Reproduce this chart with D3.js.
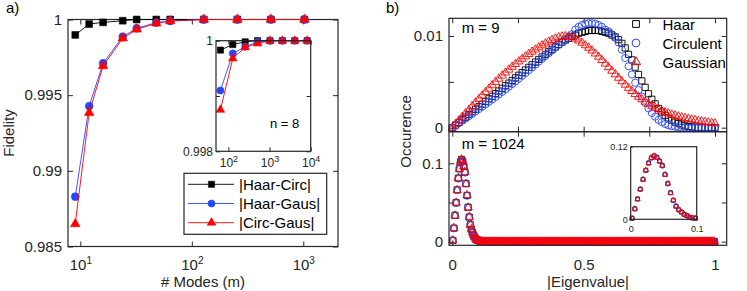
<!DOCTYPE html>
<html><head><meta charset="utf-8">
<script src="https://cdn.jsdelivr.net/npm/d3@7"></script>
<style>body{margin:0;background:#fff;} svg{display:block;}</style>
</head><body><svg id="chart" width="747" height="291"></svg>
<script>
// ---------------- DATA ----------------
// panel a: fidelity vs number of modes
const modesMain = [9, 12, 16, 24, 32, 48, 64, 128, 256, 512, 1024];
const fidHaarCirc = [0.99898, 0.9997, 0.99981, 0.99992, 1, 1, 1, 1, 1, 1, 1];
const fidHaarGaus = [0.98829, 0.99428, 0.99711, 0.99886, 0.99942, 0.99979, 0.9999, 1, 1, 1, 1];
const fidCircGaus = [0.98649, 0.99384, 0.99693, 0.99876, 0.99935, 0.99975, 0.9999, 1, 1, 1, 1];
// panel a inset (n = 8)
const modesInset = [64, 128, 256, 512, 1024, 2048, 4096, 8192];
const insHaarCirc = [0.99983, 0.99993, 0.99998, 1, 1, 1, 1, 1];
const insHaarGaus = [0.9991, 0.99977, 0.99989, 0.99998, 1, 1, 1, 1];
const insCircGaus = [0.99875, 0.99968, 0.99988, 0.99995, 1, 1, 1, 1];
const seriesNamesA = ["|Haar-Circ|", "|Haar-Gaus|", "|Circ-Gaus|"];
const mainTicksA = [10, 100, 1000];
const insetTicksA = [100, 1000, 10000];
const yTicksA = [0.985, 0.99, 0.995, 1];
const yTickLabelsA = ["0.985", "0.99", "0.995", "1"];
const yTicksInset = [0.998, 0.999, 1];
const yTickLabelsInset = ["0.998", "", "1"];

// panel b top: m = 9 occurrence histogram (80 bins from 0 to 1)
const occ9Haar = [0, 0.00029, 0.00057, 0.00086, 0.00114, 0.00143, 0.00172, 0.002, 0.00229, 0.00257,
  0.00286, 0.00315, 0.00343, 0.00372, 0.004, 0.00429, 0.00458, 0.00486, 0.00515, 0.00544,
  0.00572, 0.00601, 0.00629, 0.00658, 0.00687, 0.00715, 0.00744, 0.00772, 0.008, 0.00828,
  0.00855, 0.00882, 0.00908, 0.00933, 0.00955, 0.00975, 0.00995, 0.0101, 0.0103, 0.0104,
  0.0105, 0.0106, 0.0106, 0.0106, 0.0106, 0.0105, 0.0104, 0.0103, 0.0101, 0.0099,
  0.0096, 0.0092, 0.0087, 0.008, 0.0074, 0.0066, 0.0058, 0.0051, 0.0044, 0.0037,
  0.0031, 0.0026, 0.0021, 0.0017, 0.00135, 0.00105, 0.0008, 0.0006, 0.00044, 0.0003,
  0.0002, 0.00013, 0.00008, 0.00004, 0.00002, 0, 0, 0, 0, 0];
const occ9Circ = [0, 0.00025, 0.0005, 0.00075, 0.001, 0.00126, 0.00151, 0.00177, 0.00203, 0.00229,
  0.00255, 0.00281, 0.00308, 0.00335, 0.00362, 0.0039, 0.00418, 0.00447, 0.00476, 0.00505,
  0.00535, 0.00565, 0.00595, 0.00626, 0.00657, 0.00688, 0.0072, 0.00751, 0.00782, 0.00813,
  0.00843, 0.00872, 0.00902, 0.00932, 0.00962, 0.00992, 0.0102, 0.0107, 0.011, 0.0112,
  0.01135, 0.0114, 0.0114, 0.01135, 0.0112, 0.011, 0.0107, 0.0105, 0.0102, 0.0098,
  0.0093, 0.0085, 0.0076, 0.0067, 0.0058, 0.0049, 0.0041, 0.0034, 0.0027, 0.0021,
  0.0016, 0.0012, 0.00085, 0.0006, 0.0004, 0.00026, 0.00016, 0.0001, 0.00005, 0.00002,
  0, 0, 0, 0, 0, 0, 0, 0, 0, 0];
const occ9Gaus = [0, 0.0004, 0.0008, 0.00118, 0.00157, 0.00196, 0.00235, 0.00274, 0.00312, 0.0035,
  0.00388, 0.00425, 0.00462, 0.00498, 0.00533, 0.00567, 0.006, 0.00632, 0.00663, 0.00693,
  0.00722, 0.0075, 0.00777, 0.00803, 0.00828, 0.00852, 0.00875, 0.00897, 0.00918, 0.00938,
  0.00956, 0.00972, 0.00985, 0.00994, 0.00998, 0.00995, 0.00985, 0.0097, 0.0095, 0.00926,
  0.00898, 0.00871, 0.00841, 0.00808, 0.00773, 0.00736, 0.00698, 0.00659, 0.0062, 0.00581,
  0.00543, 0.00505, 0.00468, 0.00433, 0.00399, 0.00367, 0.00337, 0.00309, 0.00283, 0.00259,
  0.00237, 0.00217, 0.00199, 0.00183, 0.00168, 0.00155, 0.00143, 0.00132, 0.00122, 0.00113,
  0.00104, 0.00096, 0.00089, 0.00082, 0.00075, 0.00069, 0.00063, 0.00057, 0.00051, 0.00045];

// panel b bottom: m = 1024 histogram (240 bins from 0 to 1) – peak region then zeros
const occ1024HaarHead = [0.0016, 0.0173, 0.0335, 0.0497, 0.066, 0.081, 0.093, 0.1016, 0.1048, 0.1026,
  0.0962, 0.0886, 0.074, 0.059, 0.0438, 0.0314, 0.0216, 0.0157, 0.0119, 0.0081,
  0.0059, 0.0032, 0.0022, 0.0016, 0.001, 0.0006, 0.0003, 0.0001];
const occ1024CircHead = [0.0018, 0.017, 0.0338, 0.0494, 0.0663, 0.0806, 0.0935, 0.1012, 0.1045, 0.1022,
  0.0966, 0.0882, 0.0744, 0.0586, 0.0442, 0.031, 0.0219, 0.0154, 0.0121, 0.0079,
  0.0061, 0.003, 0.0024, 0.0015, 0.0011, 0.0005, 0.0003, 0.0001];
const occ1024GausHead = [0.0015, 0.0175, 0.0332, 0.0499, 0.0657, 0.0813, 0.0928, 0.1019, 0.105, 0.1019,
  0.0959, 0.0889, 0.0737, 0.0593, 0.0435, 0.0317, 0.0213, 0.0159, 0.0117, 0.0083,
  0.0057, 0.0033, 0.0021, 0.0017, 0.0009, 0.0006, 0.0002, 0.0001];
const occ1024Tail = [
  0,0,0,0,0,0,0,0,0,0,0,0,0,0,0,0,0,0,0,0,
  0,0,0,0,0,0,0,0,0,0,0,0,0,0,0,0,0,0,0,0,
  0,0,0,0,0,0,0,0,0,0,0,0,0,0,0,0,0,0,0,0,
  0,0,0,0,0,0,0,0,0,0,0,0,0,0,0,0,0,0,0,0,
  0,0,0,0,0,0,0,0,0,0,0,0,0,0,0,0,0,0,0,0,
  0,0,0,0,0,0,0,0,0,0,0,0,0,0,0,0,0,0,0,0,
  0,0,0,0,0,0,0,0,0,0,0,0,0,0,0,0,0,0,0,0,
  0,0,0,0,0,0,0,0,0,0,0,0,0,0,0,0,0,0,0,0,
  0,0,0,0,0,0,0,0,0,0,0,0,0,0,0,0,0,0,0,0,
  0,0,0,0,0,0,0,0,0,0,0,0,0,0,0,0,0,0,0,0,
  0,0,0,0,0,0,0,0,0,0,0,0];
const seriesNamesB = ["Haar", "Circulent", "Gaussian"];
const xTicksB = [0, 0.25, 0.5, 0.75, 1];
const xTickLabelsB = ["0", "", "0.5", "", "1"];
const yTicksTop = [0, 0.005, 0.01];
const yTickLabelsTop = ["0", "", "0.01"];
const yTicksBot = [0, 0.05, 0.1];
const yTickLabelsBot = ["0", "", "0.1"];

// ---------------- DRAW ----------------
const FONT = '"Liberation Sans", Arial, Helvetica, sans-serif';
const INK = '#262626';
const BLUE = '#2646ff';
const RED = '#ff0000';
const svg = d3.select('#chart');

function styleAxis(g, size) {
  g.attr('font-size', size).attr('font-family', FONT).attr('color', INK);
  g.select('.domain').remove();
  g.selectAll('.tick line').attr('stroke-width', 1);
  g.selectAll('.tick text').attr('fill', INK);
  return g;
}
function powLabels(g, supSize, rise) {
  g.selectAll('.tick text').each(function (d) {
    const t = d3.select(this).text(null);
    t.append('tspan').text('10');
    t.append('tspan').attr('dy', -rise).attr('font-size', supSize).text(Math.round(Math.log10(d)));
  });
}
function box(g, x0, y0, x1, y1, fill) {
  g.append('rect').attr('x', x0).attr('y', y0).attr('width', x1 - x0).attr('height', y1 - y0)
    .attr('fill', fill || 'none').attr('stroke', INK).attr('stroke-width', 1.2);
}
function labelFrom(ticks, labels) { return d => labels[ticks.indexOf(d)]; }

// ===== Panel a =====
const gA = svg.append('g');
const xA = d3.scaleLog().domain([7.75, 2048]).range([68, 338]);
const yA = d3.scaleLinear().domain([0.985, 1]).range([246.5, 19.5]);

styleAxis(gA.append('g').attr('transform', 'translate(0,246.5)')
  .call(d3.axisBottom(xA).tickValues(mainTicksA).tickSize(-5).tickSizeOuter(0).tickPadding(13)), 15)
  .call(g => powLabels(g, 10, 6.5));
styleAxis(gA.append('g').attr('transform', 'translate(0,19.5)')
  .call(d3.axisTop(xA).tickValues(mainTicksA).tickSize(-5).tickSizeOuter(0).tickFormat('')), 15);
styleAxis(gA.append('g').attr('transform', 'translate(68,0)')
  .call(d3.axisLeft(yA).tickValues(yTicksA).tickSize(-5).tickSizeOuter(0).tickPadding(6)
    .tickFormat(labelFrom(yTicksA, yTickLabelsA))), 15);
styleAxis(gA.append('g').attr('transform', 'translate(338,0)')
  .call(d3.axisRight(yA).tickValues(yTicksA).tickSize(-5).tickSizeOuter(0).tickFormat('')), 15);
box(gA, 68, 19.5, 338, 246.5);

const seriesA = [
  {vals: fidHaarCirc, ins: insHaarCirc, color: '#000000', sym: d3.symbolSquare, size: 46, isize: 38},
  {vals: fidHaarGaus, ins: insHaarGaus, color: BLUE, sym: d3.symbolCircle, size: 48, isize: 40},
  {vals: fidCircGaus, ins: insCircGaus, color: RED, sym: d3.symbolTriangle, size: 40, isize: 32}
];
function drawSeries(g, xs, ys, xs_, ys_, s, size) {
  const pts = ys.map((v, i) => [xs[i], v]);
  g.append('path').datum(pts)
    .attr('d', d3.line().x(d => xs_(d[0])).y(d => ys_(d[1])))
    .attr('fill', 'none').attr('stroke', s.color).attr('stroke-width', 0.9);
  g.selectAll(null).data(pts).join('path')
    .attr('d', d3.symbol().type(s.sym).size(size))
    .attr('transform', d => `translate(${xs_(d[0])},${ys_(d[1])})`)
    .attr('fill', s.color).attr('stroke', s.color).attr('stroke-width', 0.6);
}
seriesA.forEach(s => drawSeries(gA, modesMain, s.vals, xA, yA, s, s.size));

// inset
const gI = gA.append('g');
const xI = d3.scaleLog().domain([50, 10000]).range([216, 310.7]);
const yI = d3.scaleLinear().domain([0.998, 1]).range([151.3, 40.7]);
gI.append('rect').attr('x', 216).attr('y', 40.7).attr('width', 94.7).attr('height', 110.6).attr('fill', '#fff');
styleAxis(gI.append('g').attr('transform', 'translate(0,151.3)')
  .call(d3.axisBottom(xI).tickValues(insetTicksA).tickSize(-4).tickSizeOuter(0).tickPadding(7)), 12)
  .call(g => powLabels(g, 9, 5));
styleAxis(gI.append('g').attr('transform', 'translate(0,40.7)')
  .call(d3.axisTop(xI).tickValues(insetTicksA).tickSize(-4).tickSizeOuter(0).tickFormat('')), 12);
styleAxis(gI.append('g').attr('transform', 'translate(216,0)')
  .call(d3.axisLeft(yI).tickValues(yTicksInset).tickSize(-4).tickSizeOuter(0).tickPadding(3)
    .tickFormat(labelFrom(yTicksInset, yTickLabelsInset))), 12);
styleAxis(gI.append('g').attr('transform', 'translate(310.7,0)')
  .call(d3.axisRight(yI).tickValues(yTicksInset).tickSize(-4).tickSizeOuter(0).tickFormat('')), 12);
seriesA.forEach(s => drawSeries(gI, modesInset, s.ins, xI, yI, s, s.isize));
box(gI, 216, 40.7, 310.7, 151.3);
gI.append('text').attr('x', 270).attr('y', 128).attr('font-family', FONT).attr('font-size', 13)
  .attr('fill', '#000').text('n = 8');

// legend a
const gL = gA.append('g');
box(gL, 184, 173.3, 326.7, 234.3, '#fff');
seriesA.forEach((s, i) => {
  const cy = 184.3 + i * 19.2;
  gL.append('line').attr('x1', 188).attr('x2', 234).attr('y1', cy).attr('y2', cy)
    .attr('stroke', s.color).attr('stroke-width', 0.9);
  gL.append('path').attr('d', d3.symbol().type(s.sym).size(s.size * 0.85)())
    .attr('transform', `translate(211.5,${cy})`).attr('fill', s.color).attr('stroke', s.color).attr('stroke-width', 0.5);
  gL.append('text').attr('x', 239).attr('y', cy + 5.4).attr('font-family', FONT).attr('font-size', 15)
    .attr('fill', '#000').text(seriesNamesA[i]);
});

gA.append('text').attr('x', 203).attr('y', 287).attr('text-anchor', 'middle')
  .attr('font-family', FONT).attr('font-size', 15).attr('fill', INK).text('# Modes (m)');
gA.append('text').attr('transform', 'translate(14,133) rotate(-90)').attr('text-anchor', 'middle')
  .attr('font-family', FONT).attr('font-size', 15).attr('fill', INK).text('Fidelity');
svg.append('text').attr('x', 6).attr('y', 12.7).attr('font-family', FONT).attr('font-size', 15)
  .attr('fill', '#000').text('a)');

// ===== Panel b =====
const gB = svg.append('g');
const xR = d3.scaleLinear().domain([-0.0125, 1.0445]).range([449, 726.7]);
const yT = d3.scaleLinear().domain([-0.00044, 0.01193]).range([131.7, 18.3]);
const yB = d3.scaleLinear().domain([-0.0046, 0.1403]).range([245.3, 131.7]);

// top axes
styleAxis(gB.append('g').attr('transform', 'translate(0,18.3)')
  .call(d3.axisTop(xR).tickValues(xTicksB).tickSize(-5).tickSizeOuter(0).tickFormat('')), 15);
styleAxis(gB.append('g').attr('transform', 'translate(0,131.7)')
  .call(d3.axisBottom(xR).tickValues(xTicksB).tickSize(-5).tickSizeOuter(0).tickFormat('')), 15);
styleAxis(gB.append('g').attr('transform', 'translate(449,0)')
  .call(d3.axisLeft(yT).tickValues(yTicksTop).tickSize(-5).tickSizeOuter(0).tickPadding(6)
    .tickFormat(labelFrom(yTicksTop, yTickLabelsTop))), 15);
styleAxis(gB.append('g').attr('transform', 'translate(726.7,0)')
  .call(d3.axisRight(yT).tickValues(yTicksTop).tickSize(-5).tickSizeOuter(0).tickFormat('')), 15);
// bottom axes
styleAxis(gB.append('g').attr('transform', 'translate(0,131.7)')
  .call(d3.axisTop(xR).tickValues(xTicksB).tickSize(-5).tickSizeOuter(0).tickFormat('')), 15);
styleAxis(gB.append('g').attr('transform', 'translate(0,245.3)')
  .call(d3.axisBottom(xR).tickValues(xTicksB).tickSize(-5).tickSizeOuter(0).tickPadding(14.2)
    .tickFormat(labelFrom(xTicksB, xTickLabelsB))), 15);
styleAxis(gB.append('g').attr('transform', 'translate(449,0)')
  .call(d3.axisLeft(yB).tickValues(yTicksBot).tickSize(-5).tickSizeOuter(0).tickPadding(6)
    .tickFormat(labelFrom(yTicksBot, yTickLabelsBot))), 15);
styleAxis(gB.append('g').attr('transform', 'translate(726.7,0)')
  .call(d3.axisRight(yB).tickValues(yTicksBot).tickSize(-5).tickSizeOuter(0).tickFormat('')), 15);

const seriesB = [
  {color: '#000000', sym: d3.symbolSquare, size: 38, isize: 15},
  {color: BLUE, sym: d3.symbolCircle, size: 40, isize: 15},
  {color: RED, sym: d3.symbolTriangle, size: 30, isize: 12}
];
function drawOpen(g, xs, ys, xs_, ys_, s, size) {
  g.selectAll(null).data(ys.map((v, i) => [xs[i], v])).join('path')
    .attr('d', d3.symbol().type(s.sym).size(size))
    .attr('transform', d => `translate(${xs_(d[0])},${ys_(d[1])})`)
    .attr('fill', 'none').attr('stroke', s.color).attr('stroke-width', 0.9);
}
const top9 = [occ9Haar, occ9Circ, occ9Gaus];
const bins9 = top9[0].map((_, i) => i / (top9[0].length - 1));
top9.forEach((vals, k) => drawOpen(gB, bins9, vals, xR, yT, seriesB[k], seriesB[k].size));

const bot1024 = [occ1024HaarHead, occ1024CircHead, occ1024GausHead].map(h => h.concat(occ1024Tail));
const bins1024 = bot1024[0].map((_, i) => (i + 0.5) / bot1024[0].length);
bot1024.forEach((vals, k) => drawOpen(gB, bins1024, vals, xR, yB, seriesB[k], seriesB[k].size));

box(gB, 449, 18.3, 726.7, 131.7);
box(gB, 449, 131.7, 726.7, 245.3);

// legend b
seriesB.forEach((s, i) => {
  const by = 29.5 + i * 19;
  gB.append('path').attr('d', d3.symbol().type(s.sym).size(s.size * 1.2)())
    .attr('transform', `translate(636,${by - 5.5})`).attr('fill', 'none').attr('stroke', s.color).attr('stroke-width', 1);
  gB.append('text').attr('x', 662.5).attr('y', by).attr('font-family', FONT).attr('font-size', 15)
    .attr('fill', '#000').text(seriesNamesB[i]);
});

gB.append('text').attr('x', 461.7).attr('y', 33).attr('font-family', FONT).attr('font-size', 15)
  .attr('fill', '#000').text('m = 9');
gB.append('text').attr('x', 461.7).attr('y', 149).attr('font-family', FONT).attr('font-size', 15)
  .attr('fill', '#000').text('m = 1024');

// inset b
const gJ = gB.append('g');
const xJ = d3.scaleLinear().domain([0, 0.1]).range([630.7, 696.7]);
const yJ = d3.scaleLinear().domain([0, 0.12]).range([219.3, 146.7]);
gJ.append('rect').attr('x', 630.7).attr('y', 146.7).attr('width', 66).attr('height', 72.6).attr('fill', '#fff');
styleAxis(gJ.append('g').attr('transform', 'translate(0,219.3)')
  .call(d3.axisBottom(xJ).tickValues([0, 0.1]).tickSize(-2).tickSizeOuter(0).tickPadding(6.5)
    .tickFormat(d => d === 0 ? '0' : '0.1')), 9);
styleAxis(gJ.append('g').attr('transform', 'translate(630.7,0)')
  .call(d3.axisLeft(yJ).tickValues([0, 0.12]).tickSize(-2).tickSizeOuter(0).tickPadding(3)
    .tickFormat(d => d === 0 ? '0' : '0.12')), 9);
bot1024.forEach((vals, k) => {
  const xs = [], ys = [];
  vals.forEach((v, i) => { if (bins1024[i] <= 0.1) { xs.push(bins1024[i]); ys.push(v); } });
  drawOpen(gJ, xs, ys, xJ, yJ, seriesB[k], seriesB[k].isize);
});
box(gJ, 630.7, 146.7, 696.7, 219.3);

gB.append('text').attr('x', 588).attr('y', 287).attr('text-anchor', 'middle')
  .attr('font-family', FONT).attr('font-size', 15).attr('fill', INK).text('|Eigenvalue|');
gB.append('text').attr('transform', 'translate(411,131.5) rotate(-90)').attr('text-anchor', 'middle')
  .attr('font-family', FONT).attr('font-size', 15).attr('fill', INK).text('Occurence');
svg.append('text').attr('x', 386).attr('y', 12.7).attr('font-family', FONT).attr('font-size', 15)
  .attr('fill', '#000').text('b)');
</script>
</body></html>
